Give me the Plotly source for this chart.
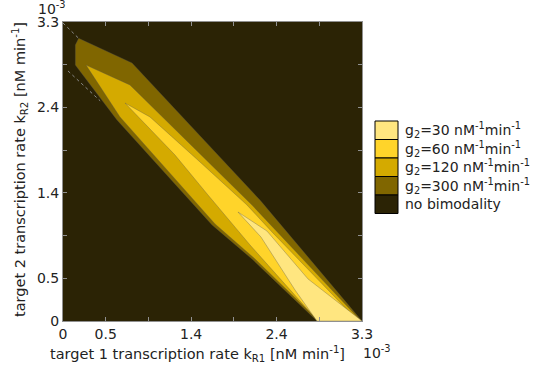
import plotly.graph_objects as go

# ---------------- data (units of 1e-3 nM/min) ----------------
x_max = 3.3
tick_vals = [0, 3.3/7, 2*3.3/7, 3*3.3/7, 4*3.3/7, 5*3.3/7, 6*3.3/7, 3.3]
tick_text = ["0", "0.5", "", "1.4", "", "2.4", "", "3.3"]

# region boundaries of bimodality for each g2 value
g300_x = [0.173, 0.762, 2.174, 3.300, 2.803, 2.086, 1.645, 0.960, 0.596, 0.136, 0.136]
g300_y = [3.120, 2.848, 1.335, 0.000, 0.000, 0.684, 1.060, 1.810, 2.218, 2.825, 3.046]

g120_x = [0.254, 0.739, 2.086, 3.289, 2.826, 2.108, 1.678, 0.971, 0.629]
g120_y = [2.825, 2.605, 1.280, 0.000, 0.000, 0.695, 1.071, 1.865, 2.252]

g60_x = [0.684, 0.960, 1.512, 2.031, 2.307, 3.256, 2.814, 2.064, 1.600, 1.236]
g60_y = [2.406, 2.252, 1.755, 1.280, 0.982, 0.000, 0.000, 0.839, 1.391, 1.832]

g30_x = [1.931, 2.251, 2.704, 3.300, 2.803, 2.561, 2.185]
g30_y = [1.203, 0.993, 0.464, 0.000, 0.000, 0.342, 0.927]

dash1_x = [0.0, 0.173]
dash1_y = [3.289, 3.120]
dash2_x = [0.055, 0.41]
dash2_y = [2.76, 2.43]

legend_labels = [
    "g<sub>2</sub>=30 nM<sup>-1</sup>min<sup>-1</sup>",
    "g<sub>2</sub>=60 nM<sup>-1</sup>min<sup>-1</sup>",
    "g<sub>2</sub>=120 nM<sup>-1</sup>min<sup>-1</sup>",
    "g<sub>2</sub>=300 nM<sup>-1</sup>min<sup>-1</sup>",
    "no bimodality",
]
legend_colors = ["#ffe680", "#ffd42a", "#d4aa00", "#806600", "#2b2305"]

# ---------------- layout geometry (pixels) ----------------
W, H = 534, 378
L, R, T, B = 63, 362, 22, 321
pw, ph = R - L, B - T


def px(x):
    return (x - L) / pw


def py(y):
    return (B - y) / ph


FONT = "DejaVu Sans"
fig = go.Figure()

regions = [(g300_x, g300_y, legend_colors[3]),
           (g120_x, g120_y, legend_colors[2]),
           (g60_x, g60_y, legend_colors[1]),
           (g30_x, g30_y, legend_colors[0])]
for xs, ys, c in regions:
    fig.add_trace(go.Scatter(x=xs + xs[:1], y=ys + ys[:1], mode="lines",
                             fill="toself", fillcolor=c,
                             line=dict(color="rgba(80,80,80,0.55)", width=0.6),
                             hoverinfo="skip", showlegend=False))

for xs, ys in [(dash1_x, dash1_y), (dash2_x, dash2_y)]:
    fig.add_trace(go.Scatter(x=xs, y=ys, mode="lines",
                             line=dict(color="#8a8a8a", width=1, dash="3px,3px"),
                             hoverinfo="skip", showlegend=False))

axis_common = dict(range=[0, x_max], tickmode="array", tickvals=tick_vals,
                   ticktext=tick_text, ticks="inside", ticklen=4,
                   tickcolor="#909090", showline=True, linecolor="#909090",
                   linewidth=1, mirror="ticks", showgrid=False, zeroline=False,
                   tickfont=dict(family=FONT, size=14, color="#222"))

fig.update_layout(
    width=W, height=H,
    margin=dict(l=L, r=W - R, t=T, b=H - B),
    paper_bgcolor="white", plot_bgcolor=legend_colors[4],
    xaxis=dict(**axis_common),
    yaxis=dict(**axis_common),
    showlegend=False,
    font=dict(family=FONT, size=14, color="#222"),
)

# legend (manual)
sw_x0, sw_x1 = 375, 398
row_top, row_h = 121, 18.5
shapes = []
annotations = []
for i, (lab, col) in enumerate(zip(legend_labels, legend_colors)):
    y0 = row_top + i * row_h
    shapes.append(dict(type="rect", xref="paper", yref="paper",
                       x0=px(sw_x0), x1=px(sw_x1), y0=py(y0 + row_h), y1=py(y0),
                       fillcolor=col, line=dict(color="black", width=1)))
    annotations.append(dict(xref="paper", yref="paper", x=px(403), y=py(y0 + row_h / 2),
                            xanchor="left", yanchor="middle", showarrow=False,
                            text=lab, font=dict(family=FONT, size=14, color="#222")))

annotations += [
    dict(xref="paper", yref="paper", x=px(197), y=py(354), xanchor="center",
         yanchor="middle", showarrow=False,
         text="target 1 transcription rate k<sub>R1</sub> [nM min<sup>-1</sup>]",
         font=dict(family=FONT, size=14.5, color="#222")),
    dict(xref="paper", yref="paper", x=px(20), y=py(170), xanchor="center",
         yanchor="middle", showarrow=False, textangle=-90,
         text="target 2 transcription rate k<sub>R2</sub> [nM min<sup>-1</sup>]",
         font=dict(family=FONT, size=14.5, color="#222")),
    dict(xref="paper", yref="paper", x=px(36), y=py(8), xanchor="left",
         yanchor="middle", showarrow=False, text="10<sup>-3</sup>",
         font=dict(family=FONT, size=14, color="#222")),
    dict(xref="paper", yref="paper", x=px(361), y=py(352), xanchor="left",
         yanchor="middle", showarrow=False, text="10<sup>-3</sup>",
         font=dict(family=FONT, size=14, color="#222")),
]
fig.update_layout(shapes=shapes, annotations=annotations)

fig.write_html("out.html")
